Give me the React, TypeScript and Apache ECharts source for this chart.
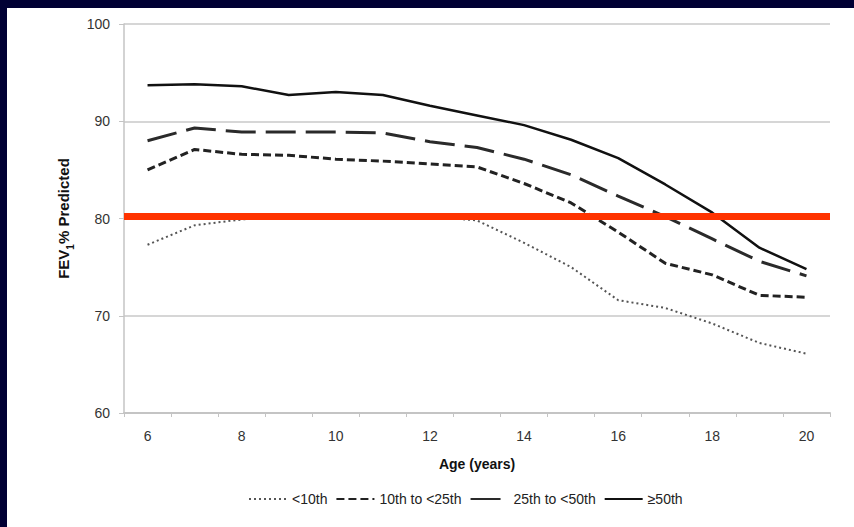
import React, { useEffect, useRef } from 'react';
import * as echarts from 'echarts';

const ages = ['6', '7', '8', '9', '10', '11', '12', '13', '14', '15', '16', '17', '18', '19', '20'];
const below10th = [77.3, 79.3, 79.9, 80.2, 80.3, 80.3, 80.2, 79.8, 77.5, 75.0, 71.6, 70.8, 69.2, 67.2, 66.1];
const p10to25 = [85.0, 87.1, 86.6, 86.5, 86.1, 85.9, 85.6, 85.3, 83.6, 81.6, 78.6, 75.4, 74.2, 72.1, 71.9];
const p25to50 = [88.0, 89.3, 88.9, 88.9, 88.9, 88.8, 87.9, 87.3, 86.1, 84.5, 82.3, 80.2, 77.9, 75.6, 74.1];
const p50up = [93.7, 93.8, 93.6, 92.7, 93.0, 92.7, 91.6, 90.6, 89.6, 88.1, 86.2, 83.5, 80.6, 77.0, 74.8];
const seriesNames = ['<10th', '10th to <25th', '25th to <50th', '≥50th'];
const threshold = 80.25;

const FONT = '"Liberation Sans", Arial, sans-serif';

export default function App() {
  const ref = useRef<HTMLDivElement>(null);
  useEffect(() => {
    if (!ref.current) return;
    const chart = echarts.init(ref.current, undefined, { renderer: 'svg' });
    chart.setOption({
      animation: false,
      backgroundColor: '#ffffff',
      textStyle: { fontFamily: FONT },
      grid: { left: 117, right: 24, top: 16, bottom: 114 },
      legend: {
        data: seriesNames,
        left: 236,
        top: 479,
        itemWidth: 38,
        itemHeight: 10,
        itemGap: 8,
        itemStyle: { opacity: 0 },
        textStyle: { fontSize: 14, color: '#222', fontFamily: FONT },
      },
      xAxis: {
        type: 'category',
        data: ages,
        boundaryGap: true,
        name: 'Age (years)',
        nameLocation: 'middle',
        nameGap: 44,
        nameTextStyle: { fontSize: 14, fontWeight: 'bold', color: '#111', fontFamily: FONT },
        axisLine: { lineStyle: { color: '#c4c4c4', width: 2 } },
        axisTick: { show: true, interval: 0, length: 4, lineStyle: { color: '#c4c4c4' } },
        axisLabel: { interval: 1, fontSize: 14, color: '#333', margin: 16, fontFamily: FONT },
        splitLine: { show: false },
      },
      yAxis: {
        type: 'value',
        min: 60,
        max: 100,
        interval: 10,
        name: '{a|FEV}{s|1}{a|% Predicted}',
        nameLocation: 'middle',
        nameRotate: 90,
        nameGap: 48,
        nameTextStyle: {
          rich: {
            a: { fontSize: 15, fontWeight: 'bold', color: '#111', fontFamily: FONT, lineHeight: 16, verticalAlign: 'top' },
            s: { fontSize: 10, fontWeight: 'bold', color: '#111', fontFamily: FONT, lineHeight: 20, verticalAlign: 'bottom' },
          },
        },
        axisLine: { show: true, lineStyle: { color: '#c4c4c4', width: 1.5 } },
        axisTick: { show: true, length: 5, lineStyle: { color: '#c4c4c4' } },
        axisLabel: { fontSize: 14, color: '#333', margin: 14, fontFamily: FONT },
        splitLine: { show: true, lineStyle: { color: '#d6d6d6', width: 2 } },
      },
      series: [
        {
          name: seriesNames[0],
          type: 'line',
          data: below10th,
          symbol: 'none',
          z: 2,
          lineStyle: { color: '#555', width: 2, type: [2, 3] },
          itemStyle: { color: '#555' },
        },
        {
          name: seriesNames[1],
          type: 'line',
          data: p10to25,
          symbol: 'none',
          z: 2,
          lineStyle: { color: '#222', width: 3, type: [8, 4] },
          itemStyle: { color: '#222' },
        },
        {
          name: 'threshold',
          type: 'line',
          data: [],
          symbol: 'none',
          z: 3,
          markLine: {
            silent: true,
            symbol: 'none',
            label: { show: false },
            lineStyle: { color: '#ff3300', width: 7, type: 'solid' },
            data: [{ yAxis: threshold }],
          },
        },
        {
          name: seriesNames[2],
          type: 'line',
          data: p25to50,
          symbol: 'none',
          z: 4,
          lineStyle: { color: '#2a2a2a', width: 3, type: [30, 10] },
          itemStyle: { color: '#2a2a2a' },
        },
        {
          name: seriesNames[3],
          type: 'line',
          data: p50up,
          symbol: 'none',
          z: 4,
          lineStyle: { color: '#111', width: 2.5, type: 'solid' },
          itemStyle: { color: '#111' },
        },
      ],
    });
    return () => chart.dispose();
  }, []);

  return (
    <div style={{ position: 'absolute', left: 0, top: 0, width: 854, height: 527, background: '#000034', overflow: 'hidden' }}>
      <div ref={ref} style={{ position: 'absolute', left: 7, top: 8, width: 847, height: 519, background: '#ffffff' }} />
    </div>
  );
}
